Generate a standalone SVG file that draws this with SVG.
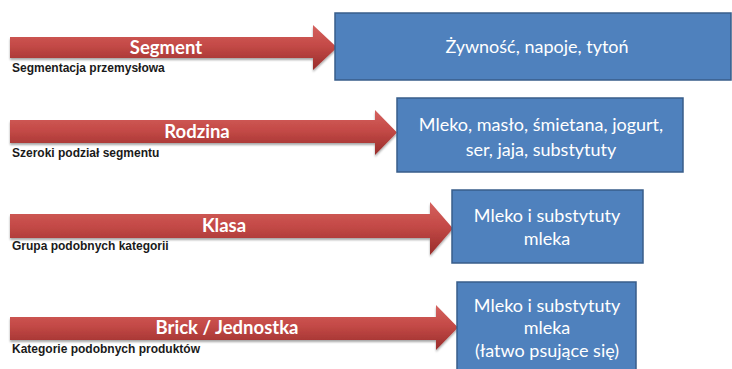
<svg xmlns="http://www.w3.org/2000/svg" width="732" height="369" viewBox="0 0 732 369">
<defs>
<linearGradient id="red" x1="0" y1="0" x2="0" y2="1">
<stop offset="0" stop-color="#D5615E"/>
<stop offset="0.45" stop-color="#C44A47"/>
<stop offset="1" stop-color="#982C2A"/>
</linearGradient>
<filter id="sh" x="-5%" y="-20%" width="110%" height="150%">
<feGaussianBlur in="SourceAlpha" stdDeviation="1.2"/>
<feOffset dx="0" dy="1.5" result="b"/>
<feComponentTransfer><feFuncA type="linear" slope="0.35"/></feComponentTransfer>
<feMerge><feMergeNode/><feMergeNode in="SourceGraphic"/></feMerge>
</filter>
</defs>
<style>
.arrow{fill:url(#red);filter:url(#sh)}
.box{fill:#4F81BD;stroke:#385D8A;stroke-width:1.5}
.title{font-family:Lato,"Open Sans",sans-serif;font-weight:bold;font-size:18.5px;fill:#fff;text-anchor:middle}
.sub{font-family:"Liberation Sans",Arial,sans-serif;font-weight:bold;font-size:12px;fill:#1a1a1a}
.bt{font-family:Lato,"Open Sans",sans-serif;font-size:18px;fill:#fff;text-anchor:middle}
</style>
<rect width="732" height="369" fill="#fff"/>
<g id="connectors">
<path class="arrow" d="M10,37 H313 V25 L337,47.5 L313,70 V58 H10 Z"/>
<path class="arrow" d="M10,120 H375 V110 L397,132.5 L375,155 V143 H10 Z"/>
<path class="arrow" d="M10,214 H430 V202 L453,228.5 L430,255 V238 H10 Z"/>
<path class="arrow" d="M10,317 H436 V305 L458,327.5 L436,350 V340 H10 Z"/>
</g>
<g id="segment-label">
<text class="title" x="166" y="54">Segment</text>
<text class="sub" x="12" y="72">Segmentacja przemysłowa</text>
</g>
<g id="rodzina-label">
<text class="title" x="197" y="138">Rodzina</text>
<text class="sub" x="12" y="157">Szeroki podział segmentu</text>
</g>
<g id="klasa-label">
<text class="title" x="224" y="232">Klasa</text>
<text class="sub" x="12" y="250">Grupa podobnych kategorii</text>
</g>
<g id="brick-label">
<text class="title" x="227" y="334">Brick / Jednostka</text>
<text class="sub" x="12" y="353">Kategorie podobnych produktów</text>
</g>
<g id="box-segment">
<rect class="box" x="335" y="13" width="396" height="67"/>
<text class="bt" x="537" y="53">Żywność, napoje, tytoń</text>
</g>
<g id="box-rodzina">
<rect class="box" x="397" y="98" width="286" height="74"/>
<text class="bt" x="541" y="131">Mleko, masło, śmietana, jogurt,</text>
<text class="bt" x="541" y="156">ser, jaja, substytuty</text>
</g>
<g id="box-klasa">
<rect class="box" x="452" y="190" width="191" height="73"/>
<text class="bt" x="547" y="222">Mleko i substytuty</text>
<text class="bt" x="547" y="245">mleka</text>
</g>
<g id="box-brick">
<rect class="box" x="457" y="282" width="179" height="92"/>
<text class="bt" x="547" y="312">Mleko i substytuty</text>
<text class="bt" x="547" y="334">mleka</text>
<text class="bt" x="547" y="357">(łatwo psujące się)</text>
</g>
</svg>
